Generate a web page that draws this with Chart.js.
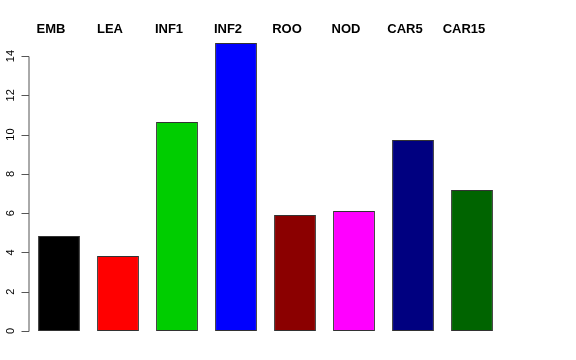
<!DOCTYPE html>
<html>
<head>
<meta charset="utf-8">
<script src="https://cdn.jsdelivr.net/npm/chart.js@4"></script>
<style>
  html, body { margin: 0; padding: 0; background: #fff; }
  #wrap { width: 576px; height: 360px; position: relative; }
</style>
</head>
<body>
<div id="wrap"><canvas id="chart" width="576" height="360"></canvas></div>
<script>
// data
const categories = ['EMB', 'LEA', 'INF1', 'INF2', 'ROO', 'NOD', 'CAR5', 'CAR15'];
const values = [4.84, 3.82, 10.64, 14.66, 5.9, 6.11, 9.72, 7.18];
const barColors = ['#000000', '#ff0000', '#00cd00', '#0000ff', '#8b0000', '#ff00ff', '#000080', '#006400'];
const yTicks = [0, 2, 4, 6, 8, 10, 12, 14];

const FONT = '"Liberation Sans", Arial, sans-serif';

// R-style axis + top labels drawn from the chart's own scales
const rAxis = {
  id: 'rAxis',
  afterDraw(chart) {
    const ctx = chart.ctx;
    const y = chart.scales.y;
    const x = chart.scales.x;
    const left = chart.chartArea.left - 1;
    ctx.save();
    ctx.strokeStyle = '#555';
    ctx.lineWidth = 1;
    ctx.beginPath();
    ctx.moveTo(left + 0.5, Math.round(y.getPixelForValue(yTicks[0])) + 0.5);
    ctx.lineTo(left + 0.5, Math.round(y.getPixelForValue(yTicks[yTicks.length - 1])) + 0.5);
    yTicks.forEach(t => {
      const py = Math.round(y.getPixelForValue(t)) + 0.5;
      ctx.moveTo(left - 7, py);
      ctx.lineTo(left + 0.5, py);
    });
    ctx.stroke();

    ctx.fillStyle = '#000';
    ctx.font = '11px ' + FONT;
    ctx.textAlign = 'center';
    ctx.textBaseline = 'middle';
    yTicks.forEach(t => {
      const py = y.getPixelForValue(t);
      ctx.save();
      ctx.translate(11, py);
      ctx.rotate(-Math.PI / 2);
      ctx.fillText(String(t), 0, 0);
      ctx.restore();
    });

    ctx.font = 'bold 13px ' + FONT;
    categories.forEach((c, i) => {
      ctx.fillText(c, x.getPixelForValue(i) - 8, 29);
    });
    ctx.restore();
  }
};

new Chart(document.getElementById('chart'), {
  type: 'bar',
  data: {
    labels: categories,
    datasets: [{
      data: values,
      backgroundColor: barColors,
      borderColor: '#333',
      borderWidth: 1,
      borderSkipped: false,
      categoryPercentage: 1,
      barPercentage: 0.71
    }]
  },
  options: {
    responsive: false,
    animation: false,
    devicePixelRatio: 1,
    layout: { padding: { left: 29.5, right: 74.5, top: 36.4, bottom: 29 } },
    plugins: { legend: { display: false }, tooltip: { enabled: false } },
    scales: {
      x: { display: false },
      y: { display: false, min: 0, max: 15 }
    }
  },
  plugins: [rAxis]
});
</script>
</body>
</html>
